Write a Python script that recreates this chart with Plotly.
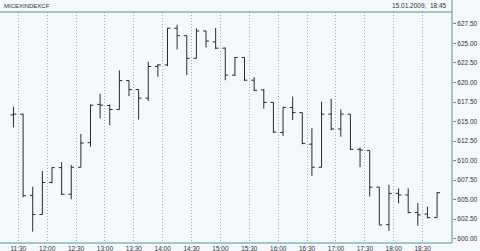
import plotly.graph_objects as go
import pandas as pd

start = pd.Timestamp("2009-01-15 11:25")
n_bars = 45
times = [start + pd.Timedelta(minutes=10 * k) for k in range(n_bars)]

opens = [615.85, 615.95, 605.55, 603.10, 607.20, 609.10, 605.70, 609.15, 612.30, 617.20,
         617.05, 616.55, 620.25, 619.10, 618.00, 622.05, 622.25, 626.95, 626.00, 623.10,
         626.60, 625.20, 624.40, 620.95, 623.20, 620.30, 619.05, 617.45, 613.60, 616.80,
         616.15, 612.10, 609.15, 615.95, 614.05, 615.95, 611.45, 611.30, 606.60, 601.80,
         605.80, 605.60, 603.35, 603.15, 602.70]
highs = [616.90, 616.00, 606.65, 608.65, 609.15, 609.80, 609.45, 613.40, 617.20, 618.55,
         617.20, 621.55, 620.25, 619.15, 622.65, 622.35, 627.00, 627.40, 626.00, 626.95,
         626.60, 627.00, 624.50, 623.25, 623.20, 620.70, 619.15, 617.45, 616.90, 618.20,
         616.15, 614.15, 617.55, 617.90, 616.55, 615.95, 611.70, 611.30, 606.60, 606.90,
         606.45, 606.45, 604.55, 604.10, 605.95]
lows = [614.25, 605.30, 600.90, 603.10, 607.10, 605.60, 605.05, 609.15, 611.80, 615.40,
        614.55, 616.55, 618.25, 615.25, 617.65, 620.75, 622.10, 624.25, 620.95, 623.10,
        624.50, 624.30, 620.30, 620.85, 620.20, 618.90, 616.65, 613.55, 613.15, 615.20,
        612.10, 608.05, 609.10, 613.90, 613.05, 611.35, 609.15, 605.40, 601.75, 601.00,
        604.55, 603.25, 601.65, 602.60, 602.70]
closes = [615.95, 605.50, 603.10, 607.20, 609.10, 605.70, 609.15, 612.25, 617.10, 617.10,
          616.55, 620.25, 619.10, 618.00, 622.05, 622.25, 626.95, 626.00, 623.10, 626.60,
          625.30, 624.40, 620.95, 623.20, 620.30, 619.00, 617.45, 613.65, 616.80, 616.15,
          612.20, 609.15, 615.95, 614.05, 615.95, 611.45, 611.35, 606.60, 601.75, 605.80,
          605.60, 603.35, 603.05, 602.70, 605.90]

y_ticks = [600.0, 602.5, 605.0, 607.5, 610.0, 612.5, 615.0, 617.5, 620.0, 622.5, 625.0, 627.5]
x_tick_labels = ["11:30", "12:00", "12:30", "13:00", "13:30", "14:00", "14:30", "15:00",
                 "15:30", "16:00", "16:30", "17:00", "17:30", "18:00", "18:30"]
x_ticks = [pd.Timestamp("2009-01-15 " + t) for t in x_tick_labels]

title_left = "MICEXINDEXCF"
title_right = "15.01.2009,  18:45"

frame = "#4a9a92"
grid = "#7fbdb5"
bg = "#f4f8fb"
bar_col = "#2a2a2a"
font = "Liberation Sans"

fig = go.Figure(go.Ohlc(
    x=times, open=opens, high=highs, low=lows, close=closes,
    increasing=dict(line=dict(color=bar_col, width=1)),
    decreasing=dict(line=dict(color=bar_col, width=1)),
    tickwidth=0.3, hoverinfo="skip", showlegend=False,
))

fig.update_layout(
    width=480, height=251,
    margin=dict(l=0, r=28, t=12, b=8),
    paper_bgcolor=bg, plot_bgcolor=bg,
    font=dict(family=font, size=6.5, color="#333333"),
    xaxis=dict(
        type="date",
        range=[pd.Timestamp("2009-01-15 11:11"), pd.Timestamp("2009-01-15 19:00:30")],
        tickvals=x_ticks, ticktext=x_tick_labels,
        showgrid=True, gridcolor=grid, griddash="1px,2px", gridwidth=1,
        showline=False, zeroline=False, ticks="", ticklen=0,
        rangeslider=dict(visible=False), fixedrange=True,
        tickfont=dict(size=6.5),
    ),
    yaxis=dict(
        side="right",
        range=[599.45, 629.03],
        tickvals=y_ticks, ticktext=[f"{v:.2f}" for v in y_ticks],
        showgrid=False, zeroline=False, showline=False,
        ticks="outside", ticklen=3, tickcolor=frame, tickwidth=1,
        tickfont=dict(size=6.5), fixedrange=True,
    ),
    shapes=[
        dict(type="line", xref="paper", yref="paper", x0=0, x1=1, y0=1, y1=1,
             line=dict(color=frame, width=1)),
        dict(type="line", xref="paper", yref="paper", x0=0, x1=1, y0=0, y1=0,
             line=dict(color=frame, width=1)),
        dict(type="line", xref="paper", yref="paper", x0=1, x1=1, y0=0, y1=1 + 12 / 231,
             line=dict(color=frame, width=1)),
    ],
    annotations=[
        dict(text=title_left, xref="paper", yref="paper", x=0.004, y=1, yshift=1,
             xanchor="left", yanchor="bottom", showarrow=False,
             font=dict(size=6, color="#333333")),
        dict(text=title_right, xref="paper", yref="paper", x=0.993, y=1, yshift=1,
             xanchor="right", yanchor="bottom", showarrow=False,
             font=dict(size=6.5, color="#333333")),
    ],
)

fig.write_html("out.html")
